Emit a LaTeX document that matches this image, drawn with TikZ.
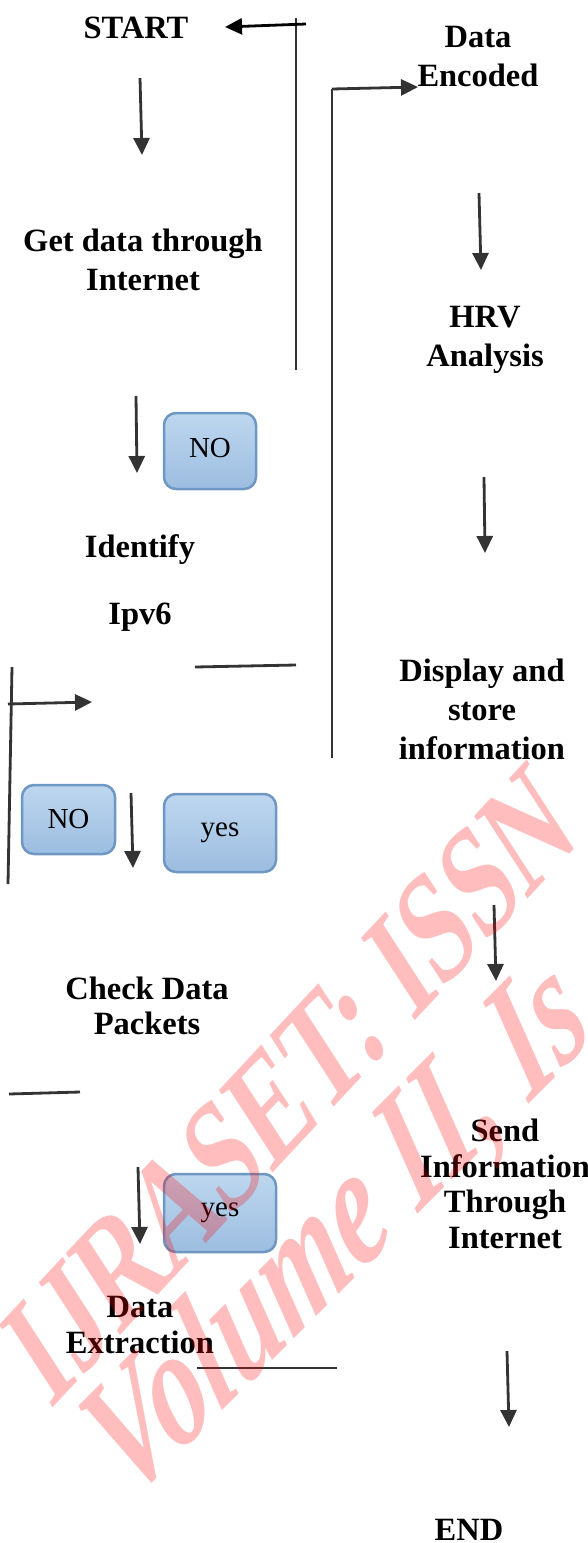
\documentclass[tikz,border=0pt]{standalone}
\usepackage{fontspec}
\setmainfont{Liberation Serif}
\usetikzlibrary{arrows.meta}
\definecolor{linegray}{RGB}{51,51,51}
\definecolor{boxtop}{RGB}{190,215,239}
\definecolor{boxbottom}{RGB}{156,189,224}
\definecolor{boxline}{RGB}{110,151,196}
\begin{document}
\begin{tikzpicture}[x = 1pt, y = -1pt,
	label/.style = {font=\fontsize{32.5}{39}\selectfont\bfseries, align=center, inner sep=0pt},
	tight/.style = {font=\fontsize{32.5}{35.5}\selectfont\bfseries},
	answer/.style = {draw=boxline, line width=2.5pt, rounded corners=12pt, top color=boxtop, bottom color=boxbottom, font=\fontsize{29}{34}\selectfont, inner sep=0pt},
	flow/.style = {draw=linegray, line width=2.8pt, -{Triangle[width=16pt,length=17pt]}},
	rule/.style = {draw=linegray, line width=2.8pt},
	stamp/.style = {text=red, text opacity=0.26, inner sep=0pt, xslant=0.25, yscale=1.3}]
	\useasboundingbox (0,0) rectangle (588,1543);
	\node[label] (start) at (136,28) {START};
	\node[label] (getdata) at (143,260) {Get data through\\Internet};
	\node[label] (identify) at (140,550) {Identify};
	\node[label] (ipv) at (140,617) {Ipv6};
	\node[label, tight] (check) at (147,1006) {Check Data\\Packets};
	\node[label, tight] (extract) at (140,1325) {Data\\Extraction};
	\node[label] (encoded) at (478,57) {Data\\Encoded};
	\node[label] (hrv) at (485,340) {HRV\\Analysis};
	\node[label] (display) at (482,709) {Display and\\store\\information};
	\node[label, tight] (send) at (505,1184) {Send\\Information\\Through\\Internet};
	\node[label] (finish) at (469,1530) {END};
	\node[answer, minimum width=92pt, minimum height=76pt] (noa) at (210,451) {\raisebox{6pt}{NO}};
	\node[answer, minimum width=93pt, minimum height=69pt] (nob) at (68.5,819.5) {NO};
	\node[answer, minimum width=112pt, minimum height=78pt] (yesa) at (220,833) {yes\hspace{16pt}};
	\node[answer, minimum width=112pt, minimum height=78pt] (yesb) at (220,1213) {yes\hspace{16pt}};
	\coordinate (backtop) at (296,18);
	\coordinate (backfoot) at (296,370);
	\coordinate (backin) at (306,24);
	\coordinate (backout) at (225,27);
	\coordinate (ontop) at (332,89);
	\coordinate (onfoot) at (332,758);
	\coordinate (onout) at (418,87);
	\coordinate (ipvright) at (296,665);
	\coordinate (ipvleft) at (195,667);
	\coordinate (looptop) at (12,667);
	\coordinate (loopfoot) at (8,884);
	\coordinate (loopin) at (8,704);
	\coordinate (loopout) at (92,702);
	\coordinate (checkleft) at (9,1094);
	\coordinate (checkright) at (80,1092);
	\coordinate (extleft) at (197,1368);
	\coordinate (extright) at (337,1368);
	\coordinate (downa) at (140,78);
	\coordinate (downaa) at (142,155);
	\coordinate (downb) at (136,396);
	\coordinate (downbb) at (137,473);
	\coordinate (downc) at (131,793);
	\coordinate (downcc) at (133,868);
	\coordinate (downd) at (138,1167);
	\coordinate (downdd) at (140,1244);
	\coordinate (rdowna) at (479,193);
	\coordinate (rdownaa) at (481,270);
	\coordinate (rdownb) at (484,477);
	\coordinate (rdownbb) at (485,553);
	\coordinate (rdownc) at (494,905);
	\coordinate (rdowncc) at (496,981);
	\coordinate (rdownd) at (507,1351);
	\coordinate (rdowndd) at (509,1427);
	\draw[rule] (backtop) -- (backfoot);
	\draw[flow, draw=black] (backin) -- (backout);
	\draw[rule] (ontop) -- (onfoot);
	\draw[flow] (ontop) -- (onout);
	\draw[rule] (ipvleft) -- (ipvright);
	\draw[rule] (looptop) -- (loopfoot);
	\draw[flow] (loopin) -- (loopout);
	\draw[rule] (checkleft) -- (checkright);
	\draw[rule] (extleft) -- (extright);
	\draw[flow] (downa) -- (downaa);
	\draw[flow] (downb) -- (downbb);
	\draw[flow] (downc) -- (downcc);
	\draw[flow] (downd) -- (downdd);
	\draw[flow] (rdowna) -- (rdownaa);
	\draw[flow] (rdownb) -- (rdownbb);
	\draw[flow] (rdownc) -- (rdowncc);
	\draw[flow] (rdownd) -- (rdowndd);
	\begin{scope}
		\clip (0,0) rectangle (588,1543);
		\node[rotate=47, stamp, font=\fontsize{112}{112}\selectfont\bfseries] (issn) at (290,1085) {IJRASET: ISSN};
		\node[rotate=45, stamp, font=\fontsize{122}{122}\selectfont\bfseries\itshape] (volume) at (340,1232) {Volume II, Is};
	\end{scope}
\end{tikzpicture}
\end{document}
